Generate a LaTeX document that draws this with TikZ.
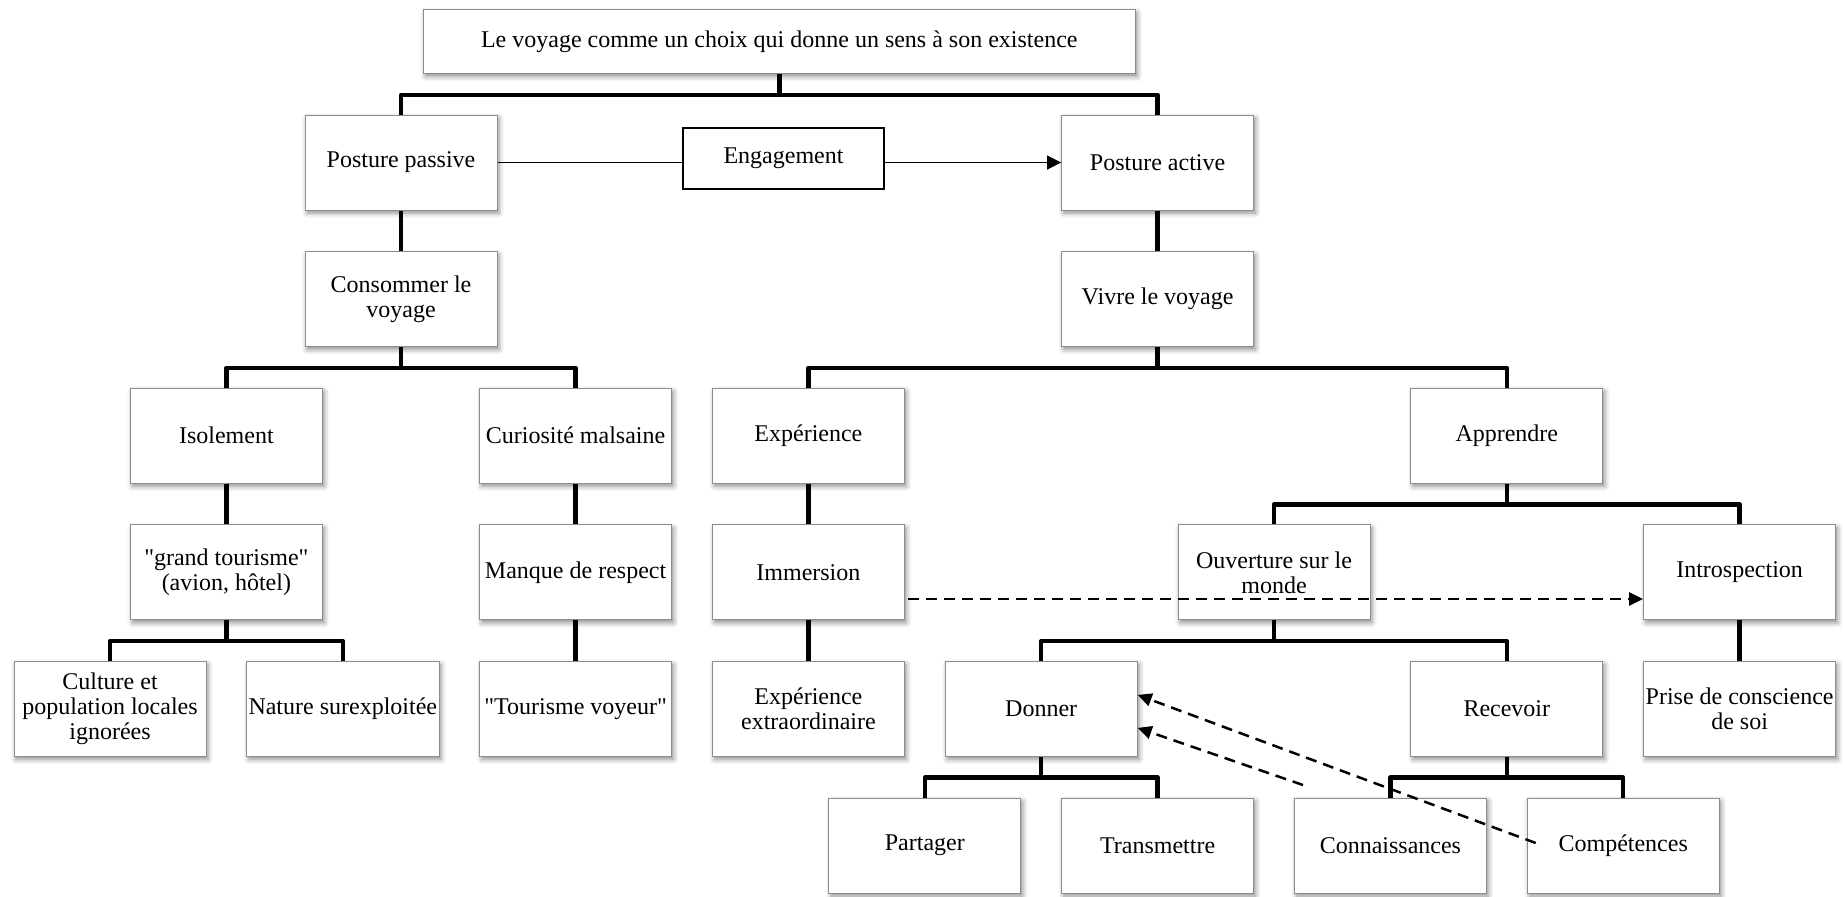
\documentclass[tikz,border=0pt]{standalone}
\usepackage{fontspec}
\setmainfont{Liberation Serif}[Ligatures=TeXOff]
\usetikzlibrary{arrows.meta,shadows.blur}

\tikzset{every picture/.style={line width=0.5pt}}
\tikzset{
  box/.style={draw={rgb, 255:red, 140; green, 140; blue, 140 }, fill=white,
    minimum width=96pt, minimum height=47.5pt, inner sep=1pt, align=center,
    font=\fontsize{12}{12.5}\selectfont,
    blur shadow={shadow xshift=1pt, shadow yshift=-1.5pt, shadow blur radius=2.5pt, shadow opacity=45}},
  tree/.style={line width=2.25pt, line join=round},
  link/.style={line width=0.75pt},
  dashlink/.style={line width=1.25pt, dash pattern=on 5.5pt off 3.5pt, -{Triangle[length=7pt,width=6.5pt]}}
}

\begin{document}
\begin{tikzpicture}[x=0.5pt,y=0.5pt,yscale=-1,xscale=1]
\useasboundingbox (0,0) rectangle (1845,896);

% Text Node
\node [box, minimum width=356pt, minimum height=32pt] (top) at (779.3,41.5) {Le voyage comme un choix qui donne un sens à son existence};
% Text Node
\node [box] (pp) at (401,162.5) {Posture passive};
% Text Node
\node [draw, link, minimum width=100.5pt, minimum height=30.5pt, inner sep=1pt, font=\fontsize{12}{12.5}\selectfont] (eng) at (783.5,158.5) {Engagement};
% Text Node
\node [box] (pa) at (1157.6,162.5) {Posture active};
% Text Node
\node [box] (cons) at (401,299.1) {Consommer le\\voyage};
% Text Node
\node [box] (vivre) at (1157.6,299.1) {Vivre le voyage};
% Text Node
\node [box] (iso) at (226.4,435.7) {Isolement};
% Text Node
\node [box] (curio) at (575.6,435.7) {Curiosité malsaine};
% Text Node
\node [box] (exper) at (808.4,435.7) {Expérience};
% Text Node
\node [box] (appr) at (1506.8,435.7) {Apprendre};
% Text Node
\node [box] (grand) at (226.4,572.3) {"grand tourisme"\\(avion, hôtel)};
% Text Node
\node [box] (manque) at (575.6,572.3) {Manque de respect};
% Text Node
\node [box] (imm) at (808.4,572.3) {Immersion};
% Text Node
\node [box] (ouv) at (1274,572.3) {Ouverture sur le\\monde};
% Text Node
\node [box] (intro) at (1739.6,572.3) {Introspection};
% Text Node
\node [box] (cult) at (110,708.9) {Culture et\\population locales\\ignorées};
% Text Node
\node [box] (nat) at (342.8,708.9) {Nature surexploitée};
% Text Node
\node [box] (voyeur) at (575.6,708.9) {"Tourisme voyeur"};
% Text Node
\node [box] (extra) at (808.4,708.9) {Expérience\\extraordinaire};
% Text Node
\node [box] (donner) at (1041.2,708.9) {Donner};
% Text Node
\node [box] (recev) at (1506.8,708.9) {Recevoir};
% Text Node
\node [box] (prise) at (1739.6,708.9) {Prise de conscience\\de soi};
% Text Node
\node [box] (part) at (924.8,845.5) {Partager};
% Text Node
\node [box] (trans) at (1157.6,845.5) {Transmettre};
% Text Node
\node [box] (conn) at (1390.4,845.5) {Connaissances};
% Text Node
\node [box] (comp) at (1623.2,845.5) {Compétences};

%Tree lines
\draw [tree] (top.south) -- ++(0,21) -| (pp.north);
\draw [tree] (top.south) -- ++(0,21) -| (pa.north);
\draw [tree] (pp.south) -- (cons.north);
\draw [tree] (pa.south) -- (vivre.north);
\draw [tree] (cons.south) -- ++(0,20.8) -| (iso.north);
\draw [tree] (cons.south) -- ++(0,20.8) -| (curio.north);
\draw [tree] (vivre.south) -- ++(0,20.8) -| (exper.north);
\draw [tree] (vivre.south) -- ++(0,20.8) -| (appr.north);
\draw [tree] (iso.south) -- (grand.north);
\draw [tree] (curio.south) -- (manque.north);
\draw [tree] (exper.south) -- (imm.north);
\draw [tree] (appr.south) -- ++(0,20.8) -| (ouv.north);
\draw [tree] (appr.south) -- ++(0,20.8) -| (intro.north);
\draw [tree] (grand.south) -- ++(0,20.8) -| (cult.north);
\draw [tree] (grand.south) -- ++(0,20.8) -| (nat.north);
\draw [tree] (manque.south) -- (voyeur.north);
\draw [tree] (imm.south) -- (extra.north);
\draw [tree] (ouv.south) -- ++(0,20.8) -| (donner.north);
\draw [tree] (ouv.south) -- ++(0,20.8) -| (recev.north);
\draw [tree] (intro.south) -- (prise.north);
\draw [tree] (donner.south) -- ++(0,20.8) -| (part.north);
\draw [tree] (donner.south) -- ++(0,20.8) -| (trans.north);
\draw [tree] (recev.south) -- ++(0,20.8) -| (conn.north);
\draw [tree] (recev.south) -- ++(0,20.8) -| (comp.north);

%Straight Lines
\draw [link] (pp.east) -- (pp.east -| eng.west);
\draw [link, -{Triangle[length=7pt,width=7pt]}] (eng.east |- pa.west) -- (pa.west);

%Dashed arrows (yscale=-1, so a positive yshift goes down)
\coordinate (knowfrom) at (1303,785);
\draw [dashlink] ([xshift=1.5pt,yshift=13.35pt]imm.east) -- ([yshift=13.35pt]intro.west);
\draw [dashlink] ([xshift=4.5pt,yshift=-1.25pt]comp.west) -- ([yshift=-7pt]donner.east);
\draw [dashlink] (knowfrom) -- ([yshift=9.5pt]donner.east);

\end{tikzpicture}
\end{document}
